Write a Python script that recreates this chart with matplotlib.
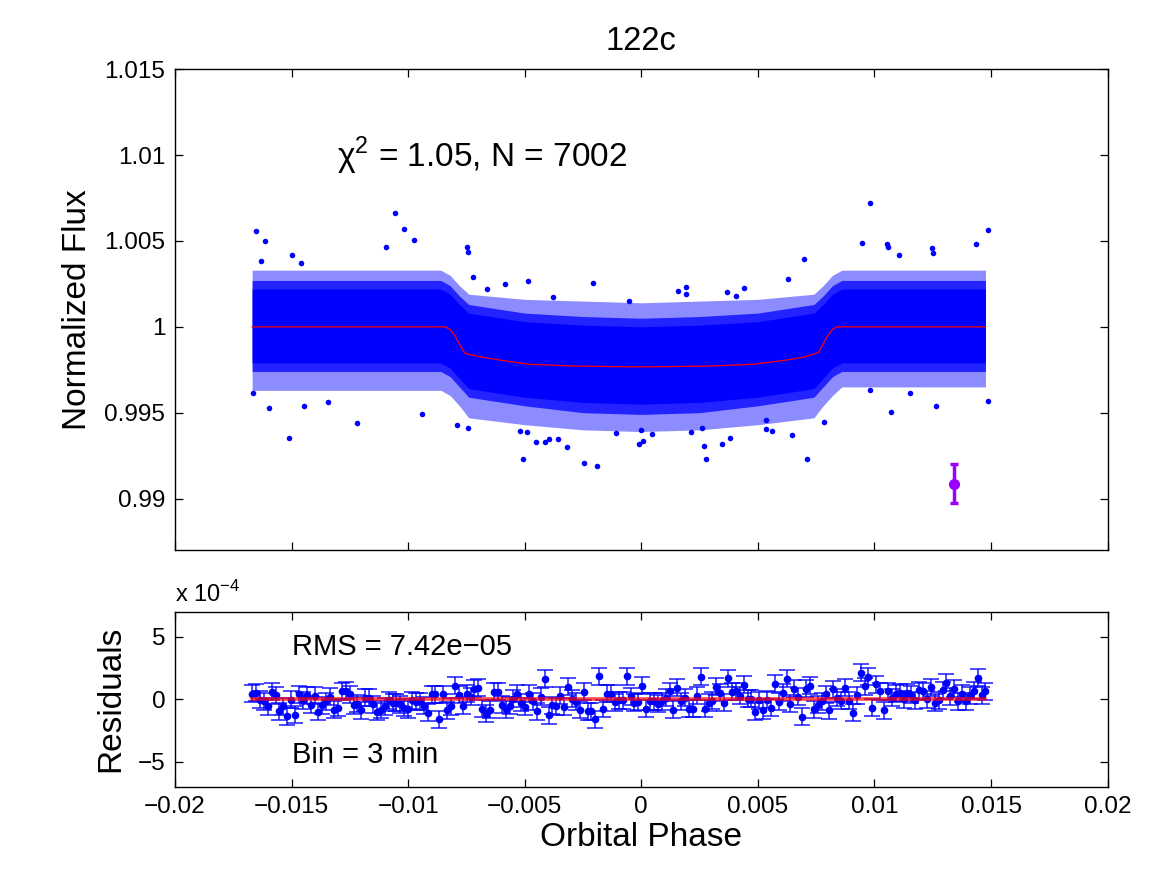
import numpy as np
import matplotlib
matplotlib.use('Agg')
import matplotlib.pyplot as plt
from matplotlib.ticker import FuncFormatter

plt.rcParams['font.family'] = ['Liberation Sans', 'DejaVu Sans']
plt.rcParams['mathtext.fontset'] = 'custom'
plt.rcParams['mathtext.rm'] = 'Liberation Sans'

# ---------------- data ----------------
# transit model (red line)
model_phase = [-0.01669, -0.00842, -0.0082, -0.0080, -0.0078, -0.00756, -0.0069, -0.0060,
               -0.0048, -0.0030, -0.0010, 0.0, 0.0010, 0.0030, 0.0048, 0.0062, 0.0070,
               0.00759, 0.0078, 0.0080, 0.0082, 0.0084, 0.01476]
model_flux = [1.0, 1.0, 0.99985, 0.9995, 0.9990, 0.99845, 0.99825, 0.99805,
              0.99782, 0.99772, 0.99768, 0.99767, 0.99768, 0.99772, 0.99782, 0.99806, 0.99825,
              0.9985, 0.9990, 0.9995, 0.99985, 1.0, 1.0]

# envelope of the dense point cloud (core / middle / outer)
band_phase = [-0.01669, -0.0086, -0.0082, -0.0078, -0.0074, -0.005, -0.0025, 0.0,
              0.0025, 0.005, 0.0074, 0.0078, 0.0082, 0.0086, 0.01476]
core_hi = [1.0022, 1.0022, 1.0019, 1.0013, 1.0008, 1.0003, 1.0001, 1.0000,
           1.0001, 1.0003, 1.0008, 1.0013, 1.0019, 1.0022, 1.0022]
core_lo = [0.9979, 0.9979, 0.9976, 0.9970, 0.9964, 0.9959, 0.9956, 0.9955,
           0.9956, 0.9959, 0.9964, 0.9970, 0.9976, 0.9979, 0.9979]
mid_hi = [1.0027, 1.0027, 1.0024, 1.0018, 1.0013, 1.0008, 1.0006, 1.0005,
          1.0006, 1.0008, 1.0013, 1.0018, 1.0024, 1.0027, 1.0027]
mid_lo = [0.9974, 0.9974, 0.9971, 0.9965, 0.9959, 0.9954, 0.9950, 0.9949,
          0.9950, 0.9954, 0.9959, 0.9965, 0.9971, 0.9974, 0.9974]
out_hi = [1.0033, 1.0033, 1.0030, 1.0024, 1.0019, 1.0016, 1.0015, 1.0014,
          1.0015, 1.0016, 1.0019, 1.0024, 1.0030, 1.0033, 1.0033]
out_lo = [0.9963, 0.9963, 0.9960, 0.9954, 0.9947, 0.9943, 0.9940, 0.9939,
          0.9940, 0.9943, 0.9947, 0.9954, 0.9960, 0.9965, 0.9965]

# isolated points outside the cloud
stray_phase = [-0.01653, -0.01615, -0.01055, -0.01017, -0.00976, -0.01094, -0.01500, -0.00749,
               -0.00745, -0.01633, -0.01460, -0.00488, -0.00206, -0.00584, -0.00380, -0.00661,
               -0.00721, -0.01510, -0.01220, -0.01596, -0.01448, -0.00941, -0.01665, -0.01345,
               -0.00509, -0.00246, -0.00189, -0.00318, -0.00453, -0.00415, -0.00396, -0.00359,
               -0.00792, -0.00742, -0.00109, -0.00521, -0.00492, 0.00979, 0.01487, 0.00947,
               0.01434, 0.01053, 0.01059, 0.01246, 0.01253, 0.01106, 0.00698, 0.00627,
               0.00193, 0.00157, 0.00193, 0.00368, 0.00407, 0.00440, -0.00054, 0.00710,
               0.00276, 0.00271, -0.00010, 0.00006, 0.00347, 0.00381, 0.00646, 0.01487,
               0.01265, 0.01069, 0.01153, 0.00980, 0.00784, 0.00533, 0.00534, 0.00559,
               0.00211, 0.00259, 0.00044, -0.00002]
stray_flux = [1.00557, 1.00502, 1.00663, 1.00568, 1.00504, 1.00467, 1.00417, 1.00463,
              1.00436, 1.00383, 1.00370, 1.00268, 1.00255, 1.00251, 1.00173, 1.00222,
              1.00290, 0.99351, 0.99442, 0.99526, 0.99539, 0.99491, 0.99617, 0.99561,
              0.99232, 0.99205, 0.99187, 0.99298, 0.99327, 0.99327, 0.99349, 0.99345,
              0.99431, 0.99411, 0.99384, 0.99393, 0.99390, 1.00723, 1.00564, 1.00490,
              1.00484, 1.00481, 1.00467, 1.00457, 1.00428, 1.00420, 1.00395, 1.00280,
              1.00233, 1.00210, 1.00191, 1.00202, 1.00177, 1.00228, 1.00152, 0.99232,
              0.99230, 0.99304, 0.99316, 0.99337, 0.99317, 0.99352, 0.99370, 0.99567,
              0.99541, 0.99506, 0.99615, 0.99631, 0.99444, 0.99457, 0.99407, 0.99396,
              0.99386, 0.99411, 0.99378, 0.99397]

# typical single-point error (purple)
typ_phase = 0.0134
typ_flux = 0.99086
typ_err = 0.00113

# binned residuals (units of 1e-4), 3 min bins
res_first, res_last = -0.01669, 0.01476
residuals = [0.45, 0.51, -0.03, -0.16, -0.56, 0.59, 0.32, -0.96, -0.56, -1.36, -0.03, -1.23,
             0.40, -0.08, 0.32, -0.43, 0.27, -1.01, -0.48, -0.16, 0.19, -0.83, -0.69, 0.64,
             0.67, 0.40, -0.48, -0.35, -0.88, 0.11, 0.11, -0.40, -1.01, -0.83, -0.56, -0.08,
             -0.29, -0.29, -0.40, -0.69, -0.80, -0.08, -0.21, -0.16, -0.53, -1.09, 0.40, 0.40,
             -1.60,
             0.40, -0.88, -0.56, 1.07, 0.37, -0.53, 0.45, 0.19, 0.85, 0.91, -0.75, -1.17,
             -0.83, 0.59, 0.59, -0.43, -0.80, -0.53, 0.05, 0.45, -0.29, -0.59, 0.45, -0.16,
             -0.96, 0.19, 1.63, -1.28, -0.48, -0.56, 0.29, -0.61, 0.99, 0.05, -0.21, -0.83,
             0.59, -0.96, -0.96, -1.60, 1.84, -0.77, 0.45, 0.45, -0.24, -0.08, -0.08, 1.84,
             0.24, -0.29, -0.21,
             1.07, -0.75, -0.16, -0.16, -0.35, -0.16, 0.11, 0.64, -0.83, 0.93, -0.16, 0.11,
             -0.75, -0.75, 0.27, 1.79, -0.75, -0.29, -0.13, 0.99, 0.53, -0.29, 1.68, 0.59,
             0.64, 0.27, 1.17, 0.05, 0.05, -1.01, -0.08, -0.88, -0.03, -0.67, 1.25, -0.21,
             0.53, 1.63, -0.35, 0.85, 0.19, -1.39, 0.85, 1.09, -0.80, -0.45, -0.16, 0.40,
             -0.88, 0.80,
             0.13, -0.13, 0.91, -0.13, -1.07, 0.32, 2.13, 1.04, 1.79, -0.67, 1.20, 0.64,
             -0.88, 0.64, 0.13, 0.45, 0.53, 0.00, 0.51, 0.37, -0.08, 0.72, 0.64, 0.00,
             0.96, -0.29, -0.08, 0.72, 1.33, 0.24, 0.85, -0.16, 0.45, -0.16, 0.32, 0.67,
             1.71, 0.32, 0.64]
res_err = 0.68

x_ticks = [-0.02, -0.015, -0.01, -0.005, 0.0, 0.005, 0.01, 0.015, 0.02]
flux_ticks = [0.99, 0.995, 1.0, 1.005, 1.01, 1.015]
res_ticks = [-5, 0, 5]

res_phase = np.linspace(res_first, res_last, len(residuals))


def matlab_fmt(v, pos=None):
    s = '%g' % round(v, 6)
    if s == '-0':
        s = '0'
    return s.replace('-', '\u2212')


fig = plt.figure(figsize=(11.64, 8.75), dpi=100)
ax = fig.add_axes([0.1503, 0.3714, 0.8013, 0.5494])
ax2 = fig.add_axes([0.1503, 0.1009, 0.8013, 0.2000])

blue = (0, 0, 1)

# ---------------- top panel: light curve ----------------
ax.fill_between(band_phase, out_lo, out_hi, color=blue, alpha=0.45, lw=0)
ax.fill_between(band_phase, mid_lo, mid_hi, color=blue, alpha=0.75, lw=0)
ax.fill_between(band_phase, core_lo, core_hi, color=blue, lw=0)
ax.plot(stray_phase, stray_flux, 'o', color=blue, ms=4, mec='none')
ax.plot(model_phase, model_flux, color='red', lw=0.9)
ax.errorbar(typ_phase, typ_flux, yerr=typ_err, fmt='o', color='#9a00ff', ms=7,
            elinewidth=2.5, capsize=3, capthick=2.5)

ax.set_xlim(-0.02, 0.02)
ax.set_ylim(0.987, 1.015)
ax.set_xticks(x_ticks)
ax.set_xticklabels([])
ax.set_yticks(flux_ticks)
ax.yaxis.set_major_formatter(FuncFormatter(matlab_fmt))
ax.set_ylabel('Normalized Flux', fontsize=24)
ax.yaxis.set_label_coords(-0.088, 0.5)
ax.text(0.5, 1.040, '122c', transform=ax.transAxes, ha='center', va='baseline', fontsize=23.5)
ax.text(0.1736, 0.797, '\u03c7$^{\\mathregular{2}}$ = 1.05, N = 7002', transform=ax.transAxes,
        ha='left', va='baseline', fontsize=24)

# ---------------- bottom panel: residuals ----------------
ax2.errorbar(res_phase, residuals, yerr=res_err, fmt='o', color=blue, ms=4.5,
             ecolor=(0, 0, 1, 0.7), elinewidth=1.4, capsize=5.5, capthick=1.4)
ax2.plot(res_phase, np.zeros_like(res_phase), color='red', lw=2.6, alpha=0.7, zorder=5)

ax2.set_xlim(-0.02, 0.02)
ax2.set_ylim(-7, 7)
ax2.set_xticks(x_ticks)
ax2.xaxis.set_major_formatter(FuncFormatter(matlab_fmt))
ax2.set_yticks(res_ticks)
ax2.yaxis.set_major_formatter(FuncFormatter(matlab_fmt))
ax2.set_ylabel('Residuals', fontsize=24)
ax2.yaxis.set_label_coords(-0.052, 0.5)
ax2.set_xlabel('Orbital Phase', fontsize=24)
ax2.xaxis.set_label_coords(0.5, -0.20)
ax2.text(0.0, 1.055, 'x 10$^{\\mathregular{\u22124}}$', transform=ax2.transAxes,
         ha='left', va='baseline', fontsize=17)
ax2.text(0.126, 0.7526, 'RMS = 7.42e\u221205', transform=ax2.transAxes,
         ha='left', va='baseline', fontsize=21)
ax2.text(0.126, 0.137, 'Bin = 3 min', transform=ax2.transAxes,
         ha='left', va='baseline', fontsize=21)

for a in (ax, ax2):
    a.tick_params(direction='in', top=True, right=True, length=6, width=0.9,
                  labelsize=17.5, pad=7)
    for sp in a.spines.values():
        sp.set_linewidth(1.0)

fig.savefig('out.png', dpi=100)
